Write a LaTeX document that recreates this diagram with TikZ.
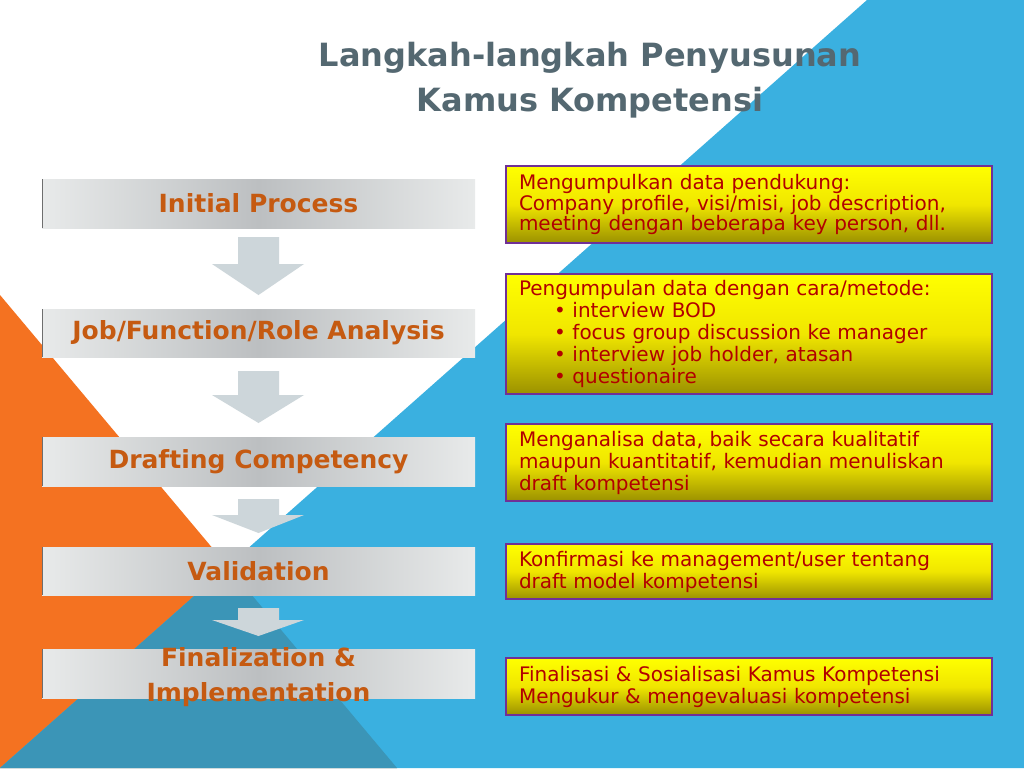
\documentclass[tikz,border=0pt]{standalone}
\usepackage{fontspec}
\setmainfont{DejaVu Sans}

\definecolor{bgorange}{RGB}{244,114,33}
\definecolor{bgblue}{RGB}{58,176,224}
\definecolor{bgteal}{RGB}{59,149,183}
\definecolor{titlegray}{RGB}{84,104,113}
\definecolor{steptext}{RGB}{197,90,17}
\definecolor{arrowgray}{RGB}{205,214,218}
\definecolor{barlight}{RGB}{232,234,234}
\definecolor{bardark}{RGB}{188,191,193}
\definecolor{baredge}{RGB}{110,110,110}
\definecolor{boxborder}{RGB}{112,48,150}
\definecolor{boxtext}{RGB}{178,0,0}
\definecolor{boxmid}{RGB}{240,230,0}
\definecolor{boxolive}{RGB}{155,145,0}

\tikzset{
  stepbar/.style={minimum width=433pt, minimum height=48pt, inner sep=0pt,
    left color=barlight, right color=barlight, middle color=bardark,
    text=steptext, font=\fontsize{25}{35}\selectfont\bfseries, align=center,
    path picture={\draw[baredge,line width=1.2pt]
      (path picture bounding box.north west) -- (path picture bounding box.south west);}},
  infobox/.style={anchor=north west, draw=boxborder, line width=2pt,
    top color=yellow, bottom color=boxolive, middle color=boxmid,
    text width=460pt, inner xsep=13pt, inner ysep=2pt, align=left,
    text=boxtext, font=\fontsize{20}{22}\selectfont},
}

\begin{document}
\begin{tikzpicture}[x=1pt,y=-1pt]
\useasboundingbox (0,0) rectangle (1024,768);

% background
\fill[white] (0,0) rectangle (1024,768);
\fill[bgorange] (0,295) -- (397,768) -- (0,768) -- cycle;
\fill[bgblue] (867,0) -- (1024,0) -- (1024,768) -- (0,768) -- cycle;
\begin{scope}
\clip (0,295) -- (397,768) -- (0,768) -- cycle;
\fill[bgteal] (867,0) -- (1024,0) -- (1024,768) -- (0,768) -- cycle;
\end{scope}

% title
\node[text=titlegray, font=\fontsize{32}{45}\selectfont\bfseries, align=center]
  (title) at (590,80) {Langkah-langkah Penyusunan\\Kamus Kompetensi};

% steps
\node[stepbar, minimum height=49pt] (initial) at (258.5,203.5) {Initial Process};
\node[stepbar] (analysis) at (258.5,333) {Job/Function/Role Analysis};
\node[stepbar, minimum height=49pt] (drafting) at (258.5,461.5) {Drafting Competency};
\node[stepbar] (validation) at (258.5,571) {Validation};
\node[stepbar, minimum height=49pt] (final) at (258.5,673.5)
  {\smash{\raisebox{-10pt}{\begin{tabular}{@{}c@{}}Finalization \&\\Implementation\end{tabular}}}};

% block arrows
\fill[arrowgray] (238,237) -- (279,237) -- (279,264) -- (304,264) -- (258.5,295) -- (212,264) -- (238,264) -- cycle;
\fill[arrowgray] (238,371) -- (279,371) -- (279,395) -- (304,395) -- (258.5,423) -- (212,395) -- (238,395) -- cycle;
\fill[arrowgray] (238,499) -- (279,499) -- (279,515) -- (304,515) -- (258.5,533) -- (212,515) -- (238,515) -- cycle;
\fill[arrowgray] (238,608) -- (279,608) -- (279,620) -- (304,620) -- (258.5,636) -- (212,620) -- (238,620) -- cycle;

% descriptions
\node[infobox, minimum height=77pt, font=\fontsize{20}{20.5}\selectfont] (desc1) at (505,165)
  {Mengumpulkan data pendukung:\\
   Company profile, visi/misi, job description,\\
   meeting dengan beberapa key person, dll.};
\node[infobox, minimum height=120pt] (desc2) at (505,273)
  {Pengumpulan data dengan cara/metode:\\
   \hspace*{35pt}• interview BOD\\
   \hspace*{35pt}• focus group discussion ke manager\\
   \hspace*{35pt}• interview job holder, atasan\\
   \hspace*{35pt}• questionaire};
\node[infobox, minimum height=77pt] (desc3) at (505,423)
  {Menganalisa data, baik secara kualitatif\\
   maupun kuantitatif, kemudian menuliskan\\
   draft kompetensi};
\node[infobox, minimum height=55pt] (desc4) at (505,543)
  {Konfirmasi ke management/user tentang\\
   draft model kompetensi};
\node[infobox, minimum height=57pt] (desc5) at (505,657)
  {Finalisasi \& Sosialisasi Kamus Kompetensi\\
   Mengukur \& mengevaluasi kompetensi};
\end{tikzpicture}
\end{document}
